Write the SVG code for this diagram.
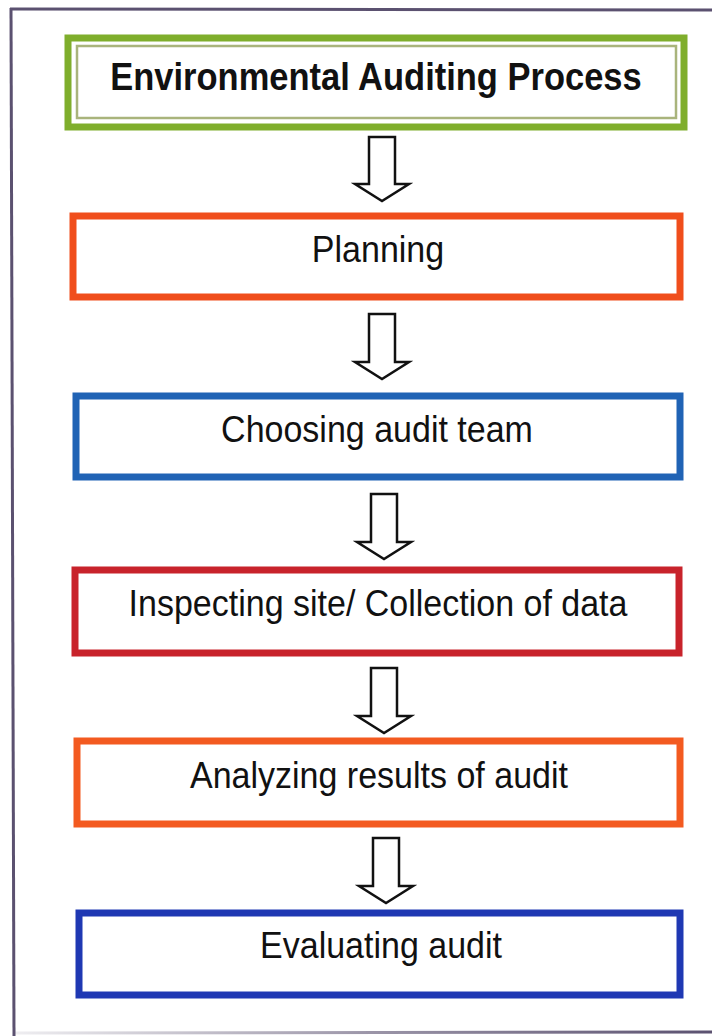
<svg xmlns="http://www.w3.org/2000/svg" width="712" height="1036" viewBox="0 0 712 1036">
<defs>
<style>
.lbl{font-family:"Liberation Sans",Arial,sans-serif;font-size:34px;fill:#111;text-anchor:middle}
.ttl{font-weight:bold;font-size:34.5px}
.box{fill:#fff;stroke-width:7}
.arr{fill:#fff;stroke:#111;stroke-width:2.5;stroke-linejoin:miter}
.frame{stroke:#5b5170;stroke-width:3;fill:none}
</style>
<linearGradient id="fade" x1="0" y1="0" x2="1" y2="0">
<stop offset="0" stop-color="#5b5170" stop-opacity="0.1"/>
<stop offset="0.5" stop-color="#5b5170" stop-opacity="0.6"/>
<stop offset="1" stop-color="#5b5170" stop-opacity="1"/>
</linearGradient>
</defs>
<rect width="712" height="1036" fill="#fff"/>
<g id="frame">
<line class="frame" x1="10" y1="9" x2="712" y2="10"/>
<line class="frame" x1="11" y1="8" x2="14" y2="1036"/>
<line x1="14" y1="1033" x2="712" y2="1032" stroke="url(#fade)" stroke-width="3"/>
</g>
<g id="title">
<rect x="68" y="38" width="616" height="89" fill="#fff" stroke="#7fae2c" stroke-width="7"/>
<rect x="77" y="46" width="599" height="72" fill="none" stroke="#a9b47c" stroke-width="2.5"/>
<text class="lbl ttl" transform="translate(376,90) scale(1,1.1)">Environmental Auditing Process</text>
</g>
<g id="planning">
<rect class="box" x="73" y="216" width="607" height="81" stroke="#f04e1c"/>
<text class="lbl" transform="translate(378,262) scale(1,1.1)">Planning</text>
</g>
<g id="choosing">
<rect class="box" x="76" y="396" width="604" height="81" stroke="#2063b5"/>
<text class="lbl" transform="translate(377,442) scale(1,1.1)">Choosing audit team</text>
</g>
<g id="inspecting">
<rect class="box" x="75" y="570" width="604" height="83" stroke="#c8232b"/>
<text class="lbl" transform="translate(378,616) scale(1,1.1)">Inspecting site/ Collection of data</text>
</g>
<g id="analyzing">
<rect class="box" x="77" y="741" width="603" height="83" stroke="#f35a20"/>
<text class="lbl" transform="translate(379,788) scale(1,1.1)">Analyzing results of audit</text>
</g>
<g id="evaluating">
<rect class="box" x="79" y="913" width="601" height="82" stroke="#1f38b3"/>
<text class="lbl" transform="translate(381,958) scale(1,1.1)">Evaluating audit</text>
</g>
<g id="connectors">
<path class="arr" d="M369,137 H395 V184 H409 L382,201 L355,184 H369 Z"/>
<path class="arr" d="M369,314 H395 V362 H409 L382,379 L355,362 H369 Z"/>
<path class="arr" d="M371,494 H397 V542 H411 L384,559 L357,542 H371 Z"/>
<path class="arr" d="M371,668 H397 V716 H411 L384,733 L357,716 H371 Z"/>
<path class="arr" d="M373,838 H399 V886 H413 L386,903 L359,886 H373 Z"/>
</g>
</svg>
